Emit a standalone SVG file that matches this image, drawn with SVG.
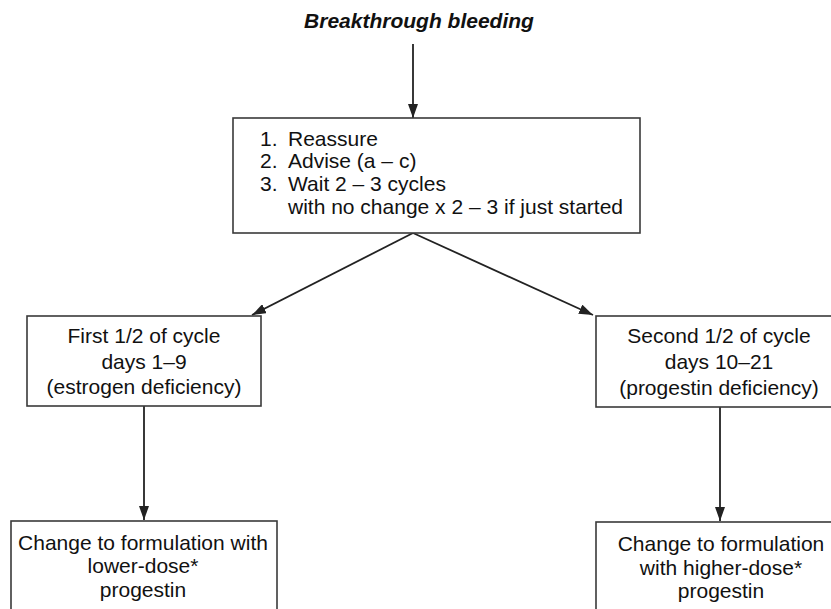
<svg xmlns="http://www.w3.org/2000/svg" width="831" height="609" viewBox="0 0 831 609">
<defs>
<style>
.box{fill:#fff;stroke:#3a3a3a;stroke-width:1.6}
.t{font-family:"Liberation Sans",Arial,sans-serif;font-size:21px;fill:#111}
.c{text-anchor:middle}
.title{font-family:"Liberation Sans",Arial,sans-serif;font-size:21px;font-weight:bold;font-style:italic;fill:#111;text-anchor:middle}
.ln{stroke:#222;stroke-width:1.8;fill:none;marker-end:url(#ah)}
</style>
<marker id="ah" viewBox="0 0 14 10" refX="14" refY="5" markerWidth="14" markerHeight="10" markerUnits="userSpaceOnUse" orient="auto">
<path d="M0,0 L14,5 L0,10 Z" fill="#222"/>
</marker>
</defs>
<rect width="831" height="609" fill="#fff"/>
<g id="title"><text class="title" x="419" y="28">Breakthrough bleeding</text></g>
<g id="connectors">
<line class="ln" x1="413" y1="44" x2="413" y2="118"/>
<line class="ln" x1="413" y1="233" x2="252" y2="315"/>
<line class="ln" x1="413" y1="233" x2="593" y2="315"/>
<line class="ln" x1="144" y1="406" x2="144" y2="520"/>
<line class="ln" x1="720" y1="407" x2="720" y2="521"/>
</g>
<g id="n-top">
<rect class="box" x="233" y="118" width="407" height="115"/>
<text class="t" x="260" y="146">1.</text><text class="t" x="288" y="146">Reassure</text>
<text class="t" x="260" y="168">2.</text><text class="t" x="288" y="168">Advise (a – c)</text>
<text class="t" x="260" y="191">3.</text><text class="t" x="288" y="191">Wait 2 – 3 cycles</text>
<text class="t" x="288" y="214">with no change x 2 – 3 if just started</text>
</g>
<g id="n-first">
<rect class="box" x="27" y="316" width="234" height="90"/>
<text class="t c" x="144" y="343">First 1/2 of cycle</text>
<text class="t c" x="144" y="369">days 1–9</text>
<text class="t c" x="144" y="394">(estrogen deficiency)</text>
</g>
<g id="n-second">
<rect class="box" x="596" y="316" width="260" height="91"/>
<text class="t c" x="719" y="343">Second 1/2 of cycle</text>
<text class="t c" x="719" y="369">days 10–21</text>
<text class="t c" x="719" y="395">(progestin deficiency)</text>
</g>
<g id="n-lower">
<rect class="box" x="11" y="521" width="266" height="100"/>
<text class="t c" x="143" y="550">Change to formulation with</text>
<text class="t c" x="143" y="573">lower-dose*</text>
<text class="t c" x="143" y="597">progestin</text>
</g>
<g id="n-higher">
<rect class="box" x="596" y="522" width="260" height="100"/>
<text class="t c" x="721" y="551">Change to formulation</text>
<text class="t c" x="721" y="575">with higher-dose*</text>
<text class="t c" x="721" y="598">progestin</text>
</g>
</svg>
